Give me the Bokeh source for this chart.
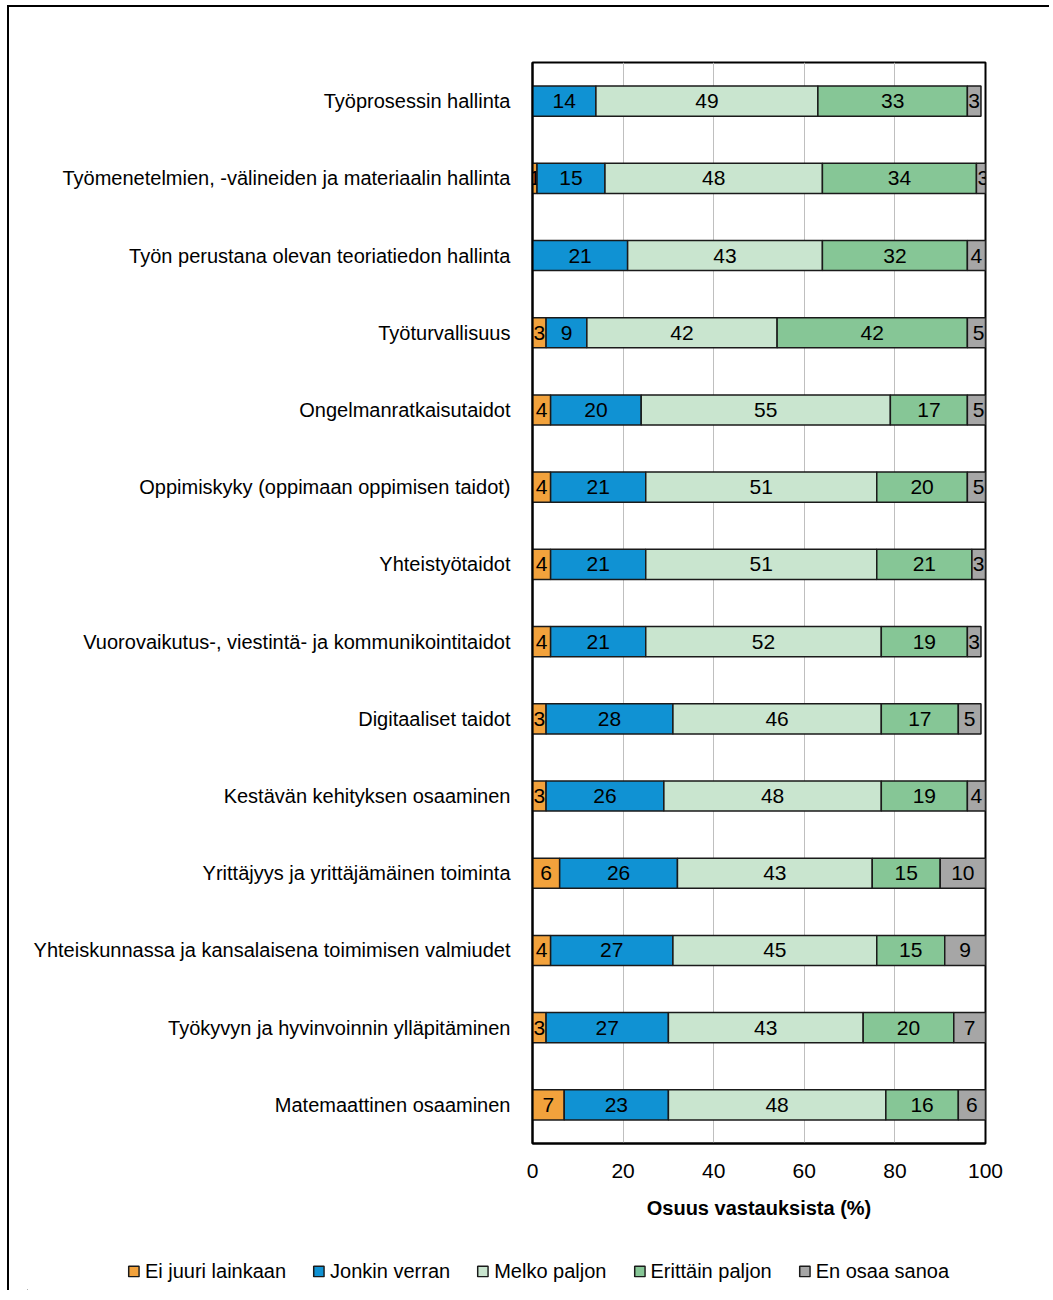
from bokeh.plotting import figure
from bokeh.layouts import column
from bokeh.models import ColumnDataSource, Legend, LegendItem, FixedTicker
from bokeh.core.properties import value
from bokeh.embed import file_html
from bokeh.resources import INLINE

categories = [
    "Työprosessin hallinta",
    "Työmenetelmien, -välineiden ja materiaalin hallinta",
    "Työn perustana olevan teoriatiedon hallinta",
    "Työturvallisuus",
    "Ongelmanratkaisutaidot",
    "Oppimiskyky (oppimaan oppimisen taidot)",
    "Yhteistyötaidot",
    "Vuorovaikutus-, viestintä- ja kommunikointitaidot",
    "Digitaaliset taidot",
    "Kestävän kehityksen osaaminen",
    "Yrittäjyys ja yrittäjämäinen toiminta",
    "Yhteiskunnassa ja kansalaisena toimimisen valmiudet",
    "Työkyvyn ja hyvinvoinnin ylläpitäminen",
    "Matemaattinen osaaminen",
]

ei_juuri = [0, 1, 0, 3, 4, 4, 4, 4, 3, 3, 6, 4, 3, 7]
jonkin = [14, 15, 21, 9, 20, 21, 21, 21, 28, 26, 26, 27, 27, 23]
melko = [49, 48, 43, 42, 55, 51, 51, 52, 46, 48, 43, 45, 43, 48]
erittain = [33, 34, 32, 42, 17, 20, 21, 19, 17, 19, 15, 15, 20, 16]
en_osaa = [3, 3, 4, 5, 5, 5, 3, 3, 5, 4, 10, 9, 7, 6]

series_names = ["Ei juuri lainkaan", "Jonkin verran", "Melko paljon", "Erittäin paljon", "En osaa sanoa"]
series_values = [ei_juuri, jonkin, melko, erittain, en_osaa]
colors = ["#F2A23C", "#1092D3", "#C9E5CF", "#86C696", "#A6A6A6"]
x_ticks = [0, 20, 40, 60, 80, 100]

FONT = "Liberation Sans"
W = 1040

p = figure(
    width=W, height=1223,
    y_range=list(reversed(categories)), x_range=(0, 100),
    output_backend="svg", toolbar_location=None,
    min_border_left=523, min_border_right=W - 523 - 453,
    min_border_top=55, min_border_bottom=87,
)
p.frame_align = False

p.outline_line_color = "black"
p.outline_line_width = 2
p.ygrid.grid_line_color = None
p.xgrid.grid_line_color = "#BFBFBF"
p.xgrid.grid_line_width = 1
p.xaxis.ticker = FixedTicker(ticks=x_ticks)

left = [0.0] * len(categories)
for name, vals, col in zip(series_names, series_values, colors):
    right = [l + v for l, v in zip(left, vals)]
    src = ColumnDataSource(dict(
        y=categories, left=left, right=right,
        mid=[(l + r) / 2 for l, r in zip(left, right)],
        lab=[str(v) if v > 0 else "" for v in vals],
    ))
    p.hbar(y="y", left="left", right="right", height=0.39, source=src,
           fill_color=col, line_color="#1a1a1a", line_width=1.5)
    p.text(x="mid", y="y", text="lab", source=src, text_align="center",
           text_baseline="middle", text_font=value(FONT), text_font_size="21px",
           text_color="black")
    left = right

for ax in (p.xaxis[0], p.yaxis[0]):
    ax.axis_line_color = "black"
    ax.axis_line_width = 2
    ax.major_tick_line_color = None
    ax.minor_tick_line_color = None
    ax.major_label_text_font = FONT
    ax.major_label_text_color = "black"

p.yaxis.major_label_text_font_size = "20px"
p.yaxis.major_label_standoff = 16
p.xaxis.major_label_text_font_size = "21px"
p.xaxis.major_label_standoff = 14
p.xaxis.axis_label = "Osuus vastauksista (%)"
p.xaxis.axis_label_text_font = FONT
p.xaxis.axis_label_text_font_style = "bold"
p.xaxis.axis_label_text_font_size = "20px"
p.xaxis.axis_label_text_color = "black"
p.xaxis.axis_label_standoff = 16

# legend strip (separate small figure so the wide legend is not clipped)
lf = figure(width=W, height=60, x_range=(0, 1), y_range=(0, 1),
            output_backend="svg", toolbar_location=None,
            x_axis_type=None, y_axis_type=None,
            min_border_left=18, min_border_right=0, min_border_top=22, min_border_bottom=0,
            outline_line_color=None)
lf.frame_align = False
lf.grid.visible = False
items = []
for name, col in zip(series_names, colors):
    # key swatch only: one hidden bar far outside the visible range
    r = lf.hbar(y=[-50], left=[-50], right=[-49], height=0.5, fill_color=col,
                line_color="#1a1a1a", line_width=1.5)
    items.append(LegendItem(label=name, renderers=[r]))
legend = Legend(
    items=items, orientation="horizontal", location="center",
    label_text_font=FONT, label_text_font_size="20px", label_text_color="black",
    glyph_width=13, glyph_height=13, label_standoff=5, spacing=26,
    padding=0, margin=0, border_line_color=None, background_fill_alpha=0,
)
lf.add_layout(legend, "center")

layout = column(p, lf, spacing=0, margin=(5, 0, 0, 7),
                styles={"border-left": "2px solid black", "border-top": "2px solid black"})

open("out.html", "w").write(file_html(layout, INLINE))
